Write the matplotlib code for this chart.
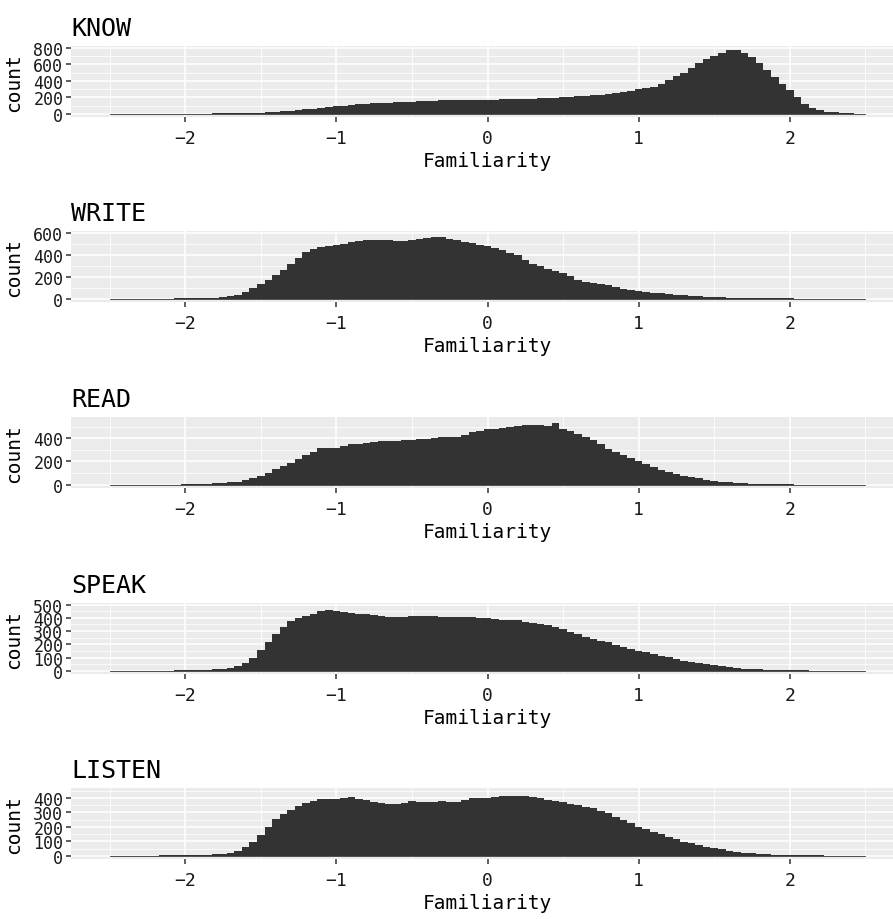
import numpy as np
import matplotlib
matplotlib.use("Agg")
import matplotlib.pyplot as plt
from matplotlib.ticker import MultipleLocator

plt.rcParams['font.family'] = ['DejaVu Sans Mono', 'DejaVu Sans']

skills = ['KNOW', 'WRITE', 'READ', 'SPEAK', 'LISTEN']

# bins of width 0.05, centred on -2.5 ... 2.5
bin_edges = np.round(np.linspace(-2.525, 2.525, 102), 3)

# counts, 101 bins each
know = [0, 0, 0, 0, 0, 0, 0, 0, 1, 1, 2,
        2, 3, 3, 4, 5, 6, 7, 9, 11,
        14, 18, 23, 29, 37, 45, 53, 62, 72, 82,
        92, 100, 108, 115, 121, 127, 132, 136, 140, 144,
        148, 152, 156, 160, 164, 168, 170, 171, 171, 171,
        171, 172, 174, 176, 178, 181, 184, 188, 192, 196,
        200, 205, 211, 217, 223, 230, 238, 248, 262, 280,
        300, 315, 330, 365, 410, 455, 500, 555, 612, 660,
        703, 740, 768, 770, 735, 690, 614, 530, 444, 365,
        290, 200, 121, 75, 40, 25, 16, 10, 5, 3, 2]
write = [0, 0, 0, 0, 1, 1, 1, 2, 2, 3, 4,
         5, 6, 7, 9, 14, 21, 35, 60, 95,
         136, 172, 212, 265, 318, 375, 424, 450, 470, 478,
         485, 500, 515, 524, 530, 533, 536, 530, 524, 527,
         530, 542, 555, 558, 560, 548, 530, 518, 506, 492,
         476, 458, 440, 418, 394, 356, 318, 295, 273, 253,
         233, 203, 173, 157, 142, 131, 121, 106, 91, 80,
         70, 62, 55, 48, 42, 36, 30, 25, 21, 18,
         15, 12, 10, 8, 7, 6, 5, 4, 4, 3,
         3, 2, 2, 1, 1, 1, 1, 0, 0, 0, 0]
read = [0, 0, 0, 0, 1, 1, 1, 1, 2, 2, 3,
        4, 5, 7, 11, 14, 20, 28, 40, 56,
        77, 105, 135, 160, 186, 220, 255, 285, 312, 315,
        315, 332, 349, 354, 358, 368, 377, 377, 377, 382,
        386, 392, 397, 402, 406, 406, 406, 428, 449, 465,
        478, 480, 483, 495, 506, 510, 512, 510, 506, 530,
        478, 458, 435, 410, 386, 346, 306, 280, 255, 230,
        206, 178, 149, 128, 106, 92, 77, 65, 54, 44,
        34, 27, 20, 16, 12, 9, 6, 5, 4, 3,
        3, 2, 2, 1, 1, 1, 0, 0, 0, 0, 0]
speak = [0, 0, 0, 1, 1, 1, 2, 2, 2, 3, 4,
         4, 5, 6, 10, 15, 23, 38, 60, 100,
         153, 215, 274, 330, 375, 395, 412, 432, 450, 455,
         450, 445, 437, 430, 425, 418, 412, 408, 405, 408,
         412, 412, 412, 410, 407, 404, 402, 402, 402, 398,
         395, 390, 382, 382, 382, 370, 357, 352, 347, 332,
         314, 296, 276, 258, 239, 226, 214, 198, 181, 166,
         151, 138, 126, 114, 101, 88, 75, 68, 60, 52,
         45, 37, 30, 23, 17, 13, 10, 8, 6, 5,
         4, 3, 3, 2, 2, 1, 1, 1, 0, 0, 0]
listen = [0, 0, 0, 1, 1, 1, 1, 2, 2, 3, 3,
          4, 5, 6, 9, 14, 21, 36, 60, 98,
          141, 200, 256, 290, 314, 345, 367, 380, 390, 392,
          395, 400, 407, 395, 383, 375, 367, 362, 360, 368,
          376, 374, 372, 374, 376, 375, 374, 386, 397, 397,
          397, 407, 416, 416, 416, 412, 409, 398, 386, 380,
          374, 362, 351, 340, 328, 310, 293, 270, 247, 224,
          201, 184, 166, 149, 132, 114, 97, 85, 74, 64,
          55, 45, 35, 28, 21, 16, 12, 9, 7, 5,
          4, 3, 3, 2, 2, 1, 1, 1, 0, 0, 0]

counts = [know, write, read, speak, listen]
# highest single bin in the original (finer) histogram, sets the y range
peaks = [782, 587, 554, 487, 447]
y_steps = [200, 200, 200, 100, 100]

W, H = 893, 920
fig = plt.figure(figsize=(W / 100, H / 100), dpi=100)

panel_tops = [47, 232, 418, 604, 789]
panel_h = 71
left, width = 71, 833

for skill, cnt, peak, step, top in zip(skills, counts, peaks, y_steps, panel_tops):
    ax = fig.add_axes([left / W, 1 - (top + panel_h) / H, width / W, panel_h / H])
    ax.set_facecolor('#EBEBEB')
    ax.stairs(cnt, bin_edges, fill=True, color='#333333', zorder=3)
    # thin baseline over the data range (tiny counts in the tails)
    ax.plot([-2.5, 2.5], [0, 0], color='#333333', lw=0.6, zorder=3)

    ax.set_xlim(-2.755, 2.755)
    ax.set_ylim(-0.05 * peak, 1.05 * peak)
    ax.xaxis.set_major_locator(MultipleLocator(1))
    ax.xaxis.set_minor_locator(MultipleLocator(0.5))
    ax.yaxis.set_major_locator(MultipleLocator(step))
    ax.yaxis.set_minor_locator(MultipleLocator(step / 2))
    ax.grid(which='major', color='white', lw=1.1)
    ax.grid(which='minor', color='white', lw=0.55)
    ax.set_axisbelow(True)
    for s in ax.spines.values():
        s.set_visible(False)
    ax.tick_params(which='major', length=3.5, width=1.1, color='#333333',
                   labelcolor='#1a1a1a')
    ax.tick_params(axis='x', labelsize=13, pad=5)
    ax.tick_params(axis='y', labelsize=12, pad=2)
    ax.tick_params(which='minor', length=0)

    ax.set_title(skill, loc='left', fontsize=18, pad=8, color='black')
    ax.set_xlabel('Familiarity', fontsize=14, labelpad=3)
    ax.set_ylabel('count', fontsize=14)
    ax.yaxis.set_label_coords(-0.057, 0.5)

fig.savefig('out.png', dpi=100)
